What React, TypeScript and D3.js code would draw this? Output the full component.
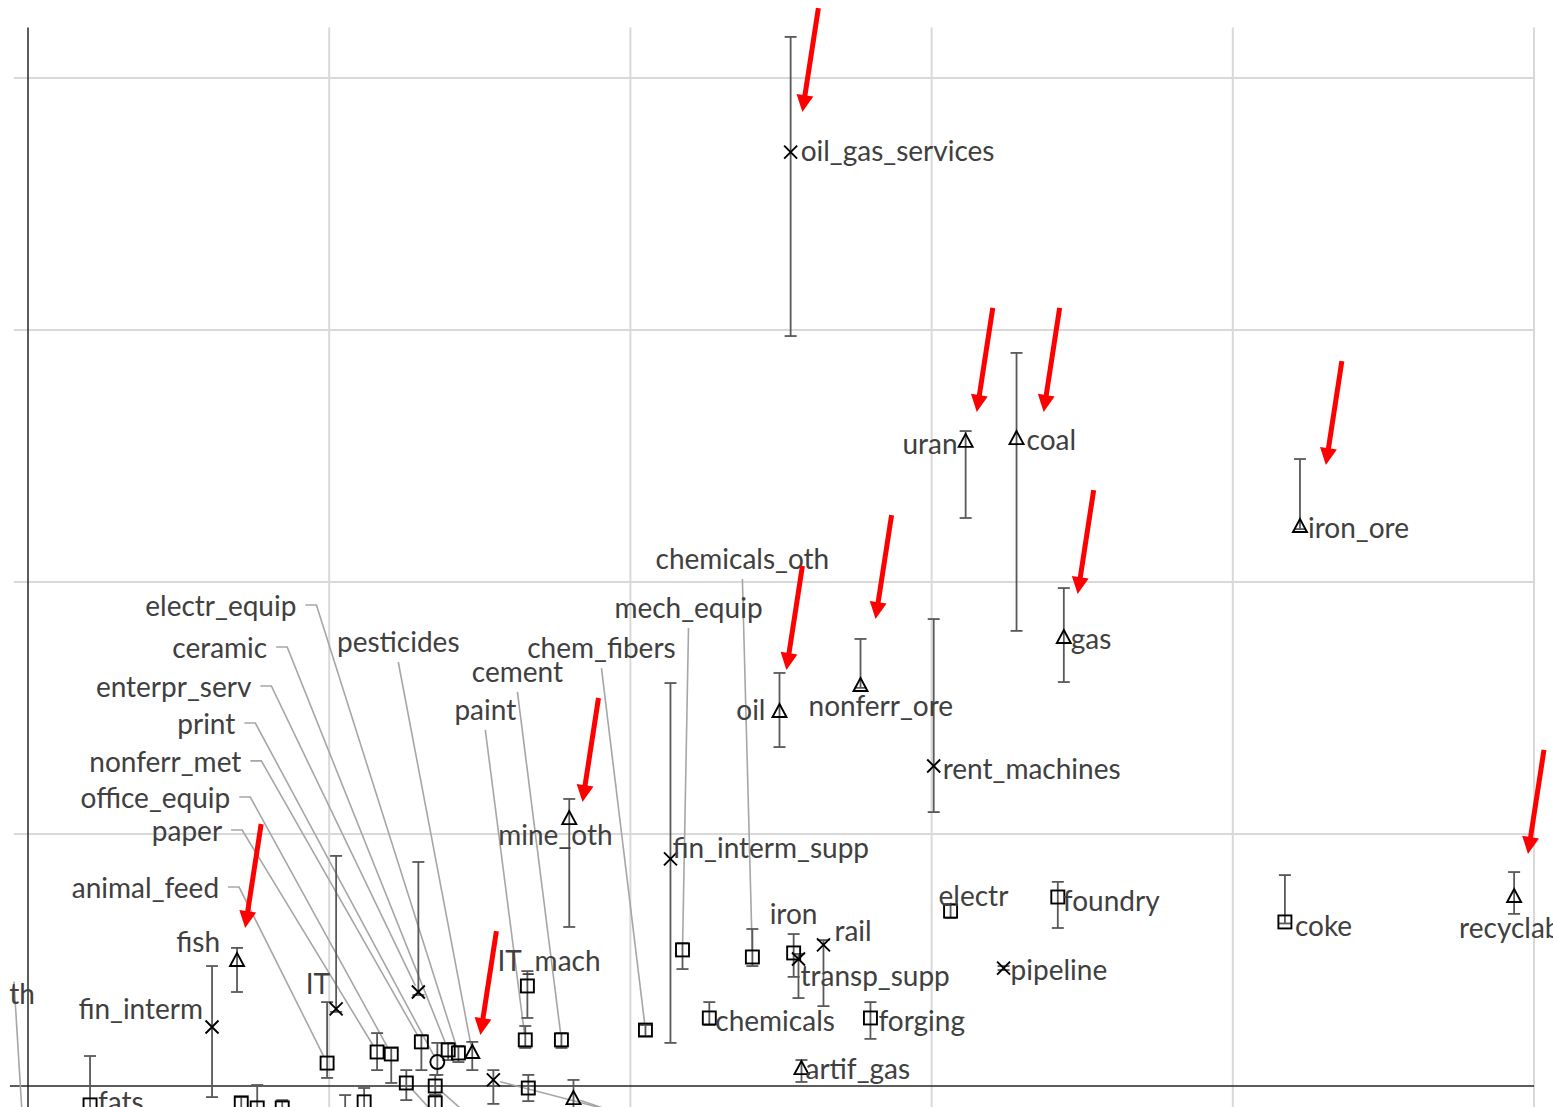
import React from 'react';
import * as d3 from 'd3';

const W = 1553;
const H = 1107;

// ---- data (x: gridline units, y: gridline units) ----
const names = [
  'oil_gas_services', 'uran', 'coal', 'iron_ore', 'gas', 'oil', 'nonferr_ore', 'rent_machines',
  'mine_oth', 'fin_interm_supp', 'chemicals_oth', 'mech_equip', 'chem_fibers', 'cement', 'paint',
  'IT_mach', 'iron', 'transp_supp', 'rail', 'chemicals', 'forging', 'artif_gas', 'electr', 'pipeline',
  'foundry', 'coke', 'recyclables', 'fish', 'fin_interm', 'IT', 'animal_feed', 'paper', 'office_equip',
  'nonferr_met', 'print', 'enterpr_serv', 'electr_equip', 'ceramic', 'pesticides', 'fats',
  'u1', 'u2', 'u3', 'u4', 'u5', 'u6', 'u7', 'u8', 'u9', 'u10', 'u11', 'th',
];
const symbols = [
  'x', 'tri', 'tri', 'tri', 'tri', 'tri', 'tri', 'x',
  'tri', 'x', 'sq', 'sq', 'sq', 'sq', 'sq',
  'sq', 'sq', 'x', 'x', 'sq', 'sq', 'tri', 'sq', 'x',
  'sq', 'sq', 'tri', 'tri', 'x', 'x', 'sq', 'sq', 'sq',
  'sq', 'circ', 'x', 'sq', 'sq', 'tri', 'sq',
  'sq', 'sq', 'sq', 'x', 'sq', 'tri', 'sq', 'sq', 'sq', 'sq', 'sq', 'none',
];
const xVals = [
  2.532, 3.113, 3.282, 4.223, 3.439, 2.495, 2.764, 3.007,
  1.797, 2.133, 2.405, 2.173, 2.050, 1.771, 1.651,
  1.658, 2.542, 2.558, 2.641, 2.262, 2.797, 2.568, 3.063, 3.239,
  3.419, 4.173, 4.934, 0.694, 0.611, 1.023, 0.993, 1.159, 1.206,
  1.306, 1.359, 1.296, 1.429, 1.395, 1.475, 0.206,
  1.256, 1.352, 1.352, 1.545, 1.661, 1.811, 0.708, 0.761, 0.844, 1.053, 1.116, -0.01,
];
const yVals = [
  3.706, 2.560, 2.571, 2.222, 1.782, 1.488, 1.591, 1.270,
  1.063, 0.901, 0.512, 0.540, 0.222, 0.183, 0.183,
  0.397, 0.528, 0.504, 0.560, 0.270, 0.270, 0.071, 0.694, 0.468,
  0.750, 0.651, 0.754, 0.500, 0.234, 0.306, 0.091, 0.135, 0.127,
  0.175, 0.095, 0.373, 0.131, 0.143, 0.135, -0.075,
  0.012, 0.000, -0.067, 0.024, -0.008, -0.048, -0.067, -0.087, -0.087, -0.120, -0.063, -0.30,
];
const yHi = [
  4.163, 2.599, 2.909, 2.488, 1.976, 1.639, 1.774, 1.853,
  1.139, 1.599, 0.623, 0.567, 0.242, 0.210, 0.238,
  0.456, 0.603, 0.524, 0.579, 0.333, 0.333, 0.103, 0.722, 0.476,
  0.810, 0.837, 0.849, 0.548, 0.476, 0.913, 0.333, 0.210, 0.151,
  0.202, 0.171, 0.889, 0.159, 0.171, 0.175, 0.119,
  0.063, 0.044, -0.036, 0.063, 0.044, 0.024, -0.044, 0.004, -0.056, -0.036, -0.008, -0.30,
];
const yLo = [
  2.976, 2.254, 1.806, 2.210, 1.603, 1.345, 1.580, 1.087,
  0.631, 0.171, 0.476, 0.464, 0.198, 0.151, 0.151,
  0.270, 0.433, 0.349, 0.317, 0.242, 0.187, 0.016, 0.667, 0.460,
  0.627, 0.645, 0.683, 0.373, -0.044, 0.294, 0.032, 0.063, 0.012,
  0.063, 0.044, 0.361, 0.095, 0.103, 0.063, -0.120,
  -0.056, -0.036, -0.100, -0.071, -0.060, -0.100, -0.100, -0.120, -0.120, -0.150, -0.100, -0.30,
];

// points highlighted by red arrows
const arrowTargets = [
  'oil_gas_services', 'uran', 'coal', 'iron_ore', 'gas', 'nonferr_ore', 'oil', 'mine_oth', 'fish',
  'pesticides', 'recyclables',
];
const arrowTipX = [2.571, 3.150, 3.372, 4.309, 3.485, 2.814, 2.518, 1.841, 0.721, 1.502, 4.980];
const arrowTipY = [3.865, 2.675, 2.675, 2.464, 1.952, 1.853, 1.651, 1.127, 0.627, 0.202, 0.921];

const xGrid = [1, 2, 3, 4, 5];
const yGrid = [1, 2, 3, 4];

// ---- layout (pixels, relative to the point) ----
type Lay = { dx: number; dy: number; anchor: 'start' | 'end' | 'middle'; leader?: 'side' | 'below' | 'left' | 'off' };
const labelLayout: Record<string, Lay> = {
  oil_gas_services: { dx: 10, dy: -2, anchor: 'start' },
  uran: { dx: -8, dy: 2, anchor: 'end' },
  coal: { dx: 10, dy: 1, anchor: 'start' },
  iron_ore: { dx: 8, dy: 1, anchor: 'start' },
  gas: { dx: 7, dy: 1, anchor: 'start' },
  oil: { dx: -14, dy: -2, anchor: 'end' },
  nonferr_ore: { dx: -52, dy: 20, anchor: 'start' },
  rent_machines: { dx: 9, dy: 2, anchor: 'start' },
  mine_oth: { dx: -71, dy: 16, anchor: 'start' },
  fin_interm_supp: { dx: 2, dy: -12, anchor: 'start' },
  IT_mach: { dx: -30, dy: -26, anchor: 'start' },
  iron: { dx: -24, dy: -40, anchor: 'start' },
  transp_supp: { dx: 2, dy: 16, anchor: 'start' },
  rail: { dx: 11, dy: -15, anchor: 'start' },
  chemicals: { dx: 6, dy: 2, anchor: 'start' },
  forging: { dx: 8, dy: 2, anchor: 'start' },
  artif_gas: { dx: 4, dy: 0, anchor: 'start' },
  electr: { dx: -12, dy: -16, anchor: 'start' },
  pipeline: { dx: 7, dy: 1, anchor: 'start' },
  foundry: { dx: 5, dy: 3, anchor: 'start' },
  coke: { dx: 10, dy: 3, anchor: 'start' },
  recyclables: { dx: -55, dy: 31, anchor: 'start' },
  fish: { dx: -17, dy: -19, anchor: 'end' },
  fin_interm: { dx: -9, dy: -19, anchor: 'end' },
  IT: { dx: -6, dy: -26, anchor: 'end' },
  fats: { dx: 8, dy: -4, anchor: 'start' },
  electr_equip: { dx: -162, dy: -448, anchor: 'end', leader: 'side' },
  ceramic: { dx: -181, dy: -403, anchor: 'end', leader: 'side' },
  enterpr_serv: { dx: -167, dy: -306, anchor: 'end', leader: 'side' },
  print: { dx: -202, dy: -339, anchor: 'end', leader: 'side' },
  nonferr_met: { dx: -180, dy: -281, anchor: 'end', leader: 'side' },
  office_equip: { dx: -161, dy: -257, anchor: 'end', leader: 'side' },
  paper: { dx: -155, dy: -222, anchor: 'end', leader: 'side' },
  animal_feed: { dx: -108, dy: -176, anchor: 'end', leader: 'side' },
  pesticides: { dx: -74, dy: -411, anchor: 'middle', leader: 'below' },
  cement: { dx: -44, dy: -369, anchor: 'middle', leader: 'below' },
  paint: { dx: -40, dy: -331, anchor: 'middle', leader: 'below' },
  chem_fibers: { dx: -44, dy: -383, anchor: 'middle', leader: 'below' },
  mech_equip: { dx: 6, dy: -343, anchor: 'middle', leader: 'below' },
  chemicals_oth: { dx: -10, dy: -399, anchor: 'middle', leader: 'below' },
  th: { dx: 10, dy: -169, anchor: 'end', leader: 'left' },
  u1: { dx: 60, dy: 66, anchor: 'start', leader: 'off' },
  u2: { dx: 60, dy: 53, anchor: 'start', leader: 'off' },
  u4: { dx: 208, dy: 54, anchor: 'start', leader: 'off' },
  u6: { dx: 80, dy: 27, anchor: 'start', leader: 'off' },
};

const FONT = 'Lato, "Open Sans", sans-serif';
const FS = 28;
const TEXT = '#404040';
const GRID = '#d9d9d9';
const ERR = '#595959';
const LEADER = '#a6a6a6';

function Marker({ s, cx, cy }: { s: string; cx: number; cy: number }) {
  const st = { fill: 'none', stroke: '#000', strokeWidth: 1.9 } as const;
  if (s === 'x') {
    const r = 6.5;
    return <path d={`M${cx - r},${cy - r}L${cx + r},${cy + r}M${cx - r},${cy + r}L${cx + r},${cy - r}`} {...st} />;
  }
  if (s === 'tri') {
    return <path d={`M${cx},${cy - 7}L${cx + 7},${cy + 6}L${cx - 7},${cy + 6}Z`} {...st} />;
  }
  if (s === 'sq') {
    return <rect x={cx - 6.5} y={cy - 6.5} width={13} height={13} {...st} />;
  }
  if (s === 'circ') {
    return <circle cx={cx} cy={cy} r={7} {...st} />;
  }
  return null;
}

export default function App() {
  const x = d3.scaleLinear().domain([0, 5]).range([28, 1534]);
  const y = d3.scaleLinear().domain([0, 4]).range([1086, 78]);

  const pts = names.map((n, i) => ({
    name: n,
    s: symbols[i],
    px: x(xVals[i]),
    py: y(yVals[i]),
    hi: y(yHi[i]),
    lo: y(yLo[i]),
  }));

  const leaders: string[] = [];
  const labels: { t: string; x: number; y: number; a: string }[] = [];
  const line = d3.line();
  for (const p of pts) {
    const L = labelLayout[p.name];
    if (!L) continue;
    const lx = p.px + L.dx;
    const ly = p.py + L.dy;
    const shorten = (sx: number, sy: number): [number, number] => {
      const vx = p.px - sx, vy = p.py - sy;
      const d = Math.hypot(vx, vy) || 1;
      return [p.px - (vx / d) * 7, p.py - (vy / d) * 7];
    };
    if (L.leader === 'side') {
      const s: [number, number] = [lx + 20, ly];
      leaders.push(line([[lx + 9, ly], s, shorten(s[0], s[1])])!);
    } else if (L.leader === 'below') {
      const s: [number, number] = [lx, ly + 21];
      leaders.push(line([s, shorten(s[0], s[1])])!);
    } else if (L.leader === 'left') {
      leaders.push(line([[lx - 21, ly - 11], [p.px, p.py]])!);
    } else if (L.leader === 'off') {
      const h = Math.hypot(L.dx, L.dy);
      leaders.push(line([[p.px + (L.dx / h) * 7, p.py + (L.dy / h) * 7], [lx, ly]])!);
      continue;
    }
    labels.push({ t: p.name, x: lx, y: ly, a: L.anchor });
  }

  const arrows = arrowTargets.map((n, i) => {
    const tx = x(arrowTipX[i]);
    const ty = y(arrowTipY[i]);
    const sx = tx + 16;
    const sy = ty - 104;
    const vx = tx - sx, vy = ty - sy;
    const d = Math.hypot(vx, vy);
    const ux = vx / d, uy = vy / d;
    const bx = tx - ux * 17, by = ty - uy * 17;
    const nx = -uy, ny = ux;
    return {
      key: n,
      shaft: `M${sx},${sy}L${bx + ux * 2},${by + uy * 2}`,
      head: `M${tx},${ty}L${bx + nx * 8.5},${by + ny * 8.5}L${bx - nx * 8.5},${by - ny * 8.5}Z`,
    };
  });

  return (
    <svg
      width={W}
      height={H}
      style={{ position: 'absolute', left: 0, top: 0, display: 'block', background: '#fff' }}
      fontFamily={FONT}
    >
      {/* grid */}
      {yGrid.map((g) => (
        <line key={'hy' + g} x1={x(-0.047)} x2={x(5)} y1={y(g)} y2={y(g)} stroke={GRID} strokeWidth={2} />
      ))}
      {xGrid.map((g) => (
        <line key={'vx' + g} x1={x(g)} x2={x(g)} y1={y(4.2)} y2={H} stroke={GRID} strokeWidth={2} />
      ))}
      {/* axes */}
      <line x1={x(0)} x2={x(0)} y1={y(4.2)} y2={H} stroke="#262626" strokeWidth={1.5} />
      <line x1={x(-0.06)} x2={x(5)} y1={y(0)} y2={y(0)} stroke="#262626" strokeWidth={1.5} />

      {/* leader lines */}
      {leaders.map((d, i) => (
        <path key={'ld' + i} d={d} fill="none" stroke={LEADER} strokeWidth={1.6} />
      ))}

      {/* error bars */}
      {pts.map((p) => (
        <g key={'e' + p.name} stroke={ERR} strokeWidth={1.8} fill="none">
          <line x1={p.px} x2={p.px} y1={p.hi} y2={p.lo} />
          <line x1={p.px - 6} x2={p.px + 6} y1={p.hi} y2={p.hi} />
          <line x1={p.px - 6} x2={p.px + 6} y1={p.lo} y2={p.lo} />
        </g>
      ))}

      {/* markers */}
      {pts.map((p) => (
        <Marker key={'m' + p.name} s={p.s} cx={p.px} cy={p.py} />
      ))}

      {/* labels */}
      {labels.map((l) => (
        <text
          key={'t' + l.t}
          x={l.x}
          y={l.y}
          textAnchor={l.a as any}
          dominantBaseline="central"
          fontSize={FS}
          fill={TEXT}
        >
          {l.t}
        </text>
      ))}

      {/* red arrows */}
      {arrows.map((a) => (
        <g key={'a' + a.key}>
          <path d={a.shaft} stroke="#ff0000" strokeWidth={5} fill="none" />
          <path d={a.head} fill="#ff0000" stroke="none" />
        </g>
      ))}
    </svg>
  );
}
